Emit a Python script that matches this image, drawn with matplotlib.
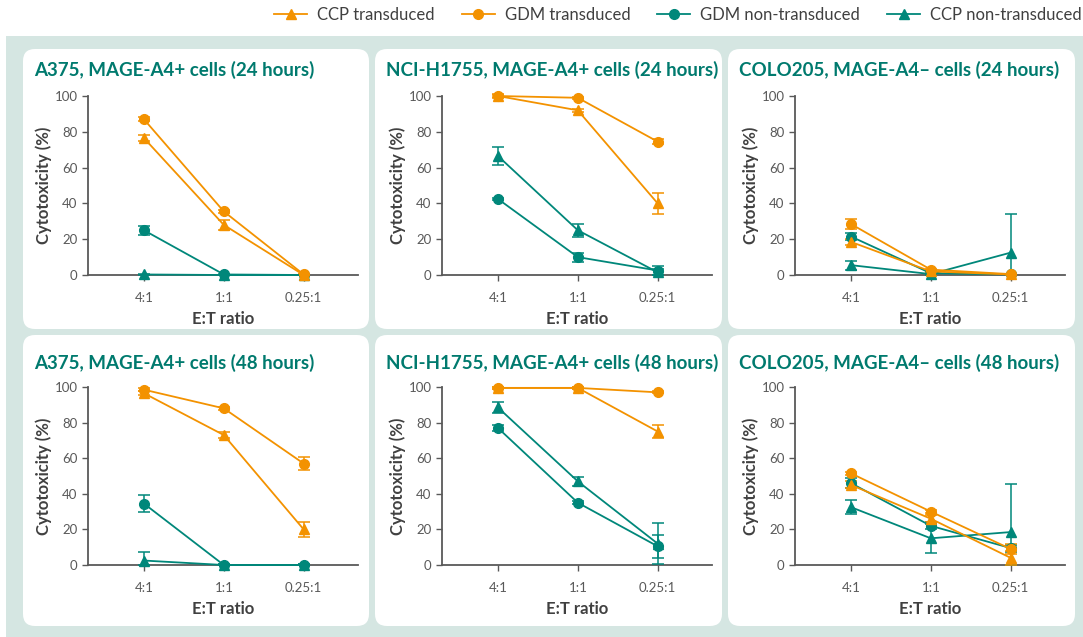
import matplotlib.pyplot as plt
import numpy as np
from matplotlib.patches import FancyBboxPatch, Rectangle
from matplotlib.lines import Line2D

plt.rcParams["font.family"] = ["Lato", "DejaVu Sans"]

ratios = ["4:1", "1:1", "0.25:1"]
titles = [
    "A375, MAGE-A4+ cells (24 hours)",
    "NCI-H1755, MAGE-A4+ cells (24 hours)",
    "COLO205, MAGE-A4\u2013 cells (24 hours)",
    "A375, MAGE-A4+ cells (48 hours)",
    "NCI-H1755, MAGE-A4+ cells (48 hours)",
    "COLO205, MAGE-A4\u2013 cells (48 hours)",
]

# one row per panel, values at 4:1, 1:1, 0.25:1
ccp_tr = [[76.5, 28, 0], [100, 92, 40], [18.5, 2, 0.3], [96.5, 73, 20], [99.5, 99.5, 75], [45, 26, 4]]
ccp_tr_err = [[1.5, 3, 0], [1, 1, 6], [1.5, 0.5, 0], [1, 1.5, 4], [0.5, 0.5, 3.5], [2, 2, 4]]
gdm_tr = [[87, 35.5, 0.3], [100, 99, 74.5], [28.5, 3, 0.5], [98.5, 88, 57], [99.5, 99.5, 97], [51.5, 30, 9]]
gdm_tr_err = [[1, 1, 0], [0.5, 0.5, 1.5], [3, 0.5, 0.3], [1, 1, 3.5], [0.5, 0.5, 0.5], [1, 1, 3]]
gdm_non = [[25, 0.3, 0], [42.5, 10, 2.5], [21.5, 1, 0.3], [34.5, 0, 0], [77, 35, 10.5], [46, 22, 9.5]]
gdm_non_err = [[2.5, 0.3, 0], [0.5, 2.5, 2.5], [2, 0.5, 0.3], [5, 0.3, 0.3], [1.5, 1, 6.5], [3, 2, 2]]
ccp_non = [[0.3, 0, 0], [66.5, 25, 1.5], [5.5, 0.5, 12.5], [2.5, 0, 0], [88.5, 47, 12], [32.5, 15, 18.5]]
ccp_non_err = [[0.3, 0, 0], [5, 3.5, 2], [2.5, 0.5, 21.5], [5, 0.3, 0.3], [3, 2.5, 11.5], [4, 8, 27]]

ORANGE = "#F39200"
TEAL = "#00877A"
TITLE = "#007A6E"
BG = "#D5E6E2"
DARK = "#404040"
GREY = "#595959"

W, H = 1083, 637
fig = plt.figure(figsize=(W / 100, H / 100), dpi=100)


def fx(px):
    return px / W


def fy(py):
    return 1 - py / H


# background band + white cards
fig.patches.append(Rectangle((fx(6), 0), fx(W - 6), fy(36), transform=fig.transFigure,
                             facecolor=BG, edgecolor="none", zorder=-3))
card_x = [(23, 369), (375, 722), (728, 1075)]
card_y = [(49, 329), (335, 626)]
for (y0, y1) in card_y:
    for (x0, x1) in card_x:
        r = 12
        fig.patches.append(FancyBboxPatch(
            (fx(x0 + r), fy(y1 - r)), fx(x1 - x0 - 2 * r), (y1 - y0 - 2 * r) / H,
            boxstyle=f"round,pad={r / W},rounding_size={r / W}",
            transform=fig.transFigure, facecolor="white", edgecolor="none",
            zorder=-2, mutation_aspect=W / H))

ax_left = [88, 442, 795]
ax_w = 270
ax_top = [96, 387]
ax_bot = [275, 565]
title_y = [70, 363]

series = [
    (ccp_non, ccp_non_err, TEAL, "^", "CCP non-transduced"),
    (gdm_non, gdm_non_err, TEAL, "o", "GDM non-transduced"),
    (ccp_tr, ccp_tr_err, ORANGE, "^", "CCP transduced"),
    (gdm_tr, gdm_tr_err, ORANGE, "o", "GDM transduced"),
]

x = np.arange(len(ratios))
for i in range(6):
    row, col = divmod(i, 3)
    ax = fig.add_axes([fx(ax_left[col]), fy(ax_bot[row]), fx(ax_w),
                       (ax_bot[row] - ax_top[row]) / H])
    for vals, errs, color, mk, label in series:
        v = np.array(vals[i], dtype=float)
        e = np.array(errs[i], dtype=float)
        lower = np.minimum(e, v)
        ax.errorbar(x, v, yerr=[lower, e], color=color, marker=mk, markersize=7,
                    linewidth=1.3, ecolor=color, elinewidth=1.1, capsize=4,
                    capthick=1.1, clip_on=False, zorder=3)
    ax.set_xlim(-0.7, 2.68)
    ax.set_ylim(0, 100)
    ax.set_yticks([0, 20, 40, 60, 80, 100])
    ax.set_xticks(x)
    ax.set_xticklabels(ratios)
    for s in ["top", "right"]:
        ax.spines[s].set_visible(False)
    for s in ["left", "bottom"]:
        ax.spines[s].set_color(GREY)
        ax.spines[s].set_linewidth(1.3)
    ax.tick_params(axis="both", colors=GREY, labelsize=9.5, length=4, width=1)
    ax.tick_params(axis="x", pad=8)
    ax.set_ylabel("Cytotoxicity (%)", fontsize=12, fontweight="bold", color=DARK, labelpad=2)
    ax.set_xlabel("E:T ratio", fontsize=12, fontweight="bold", color=DARK, labelpad=5)
    ax.patch.set_alpha(0)
    fig.text(fx(card_x[col][0] + 11), fy(title_y[row]), titles[i],
             fontsize=13.5, fontweight="bold", color=TITLE, va="center", ha="left")

handles = [
    Line2D([], [], color=ORANGE, marker="^", markersize=7, linewidth=1.3),
    Line2D([], [], color=ORANGE, marker="o", markersize=7, linewidth=1.3),
    Line2D([], [], color=TEAL, marker="o", markersize=7, linewidth=1.3),
    Line2D([], [], color=TEAL, marker="^", markersize=7, linewidth=1.3),
]
labels = ["CCP transduced", "GDM transduced", "GDM non-transduced", "CCP non-transduced"]
leg = fig.legend(handles, labels, loc="center left", bbox_to_anchor=(fx(274), fy(15)),
                 ncol=4, frameon=False, fontsize=12, handlelength=2.0,
                 handletextpad=0.6, columnspacing=1.6, borderaxespad=0, borderpad=0)
for t in leg.get_texts():
    t.set_color(DARK)

fig.savefig("out.png", dpi=100)
